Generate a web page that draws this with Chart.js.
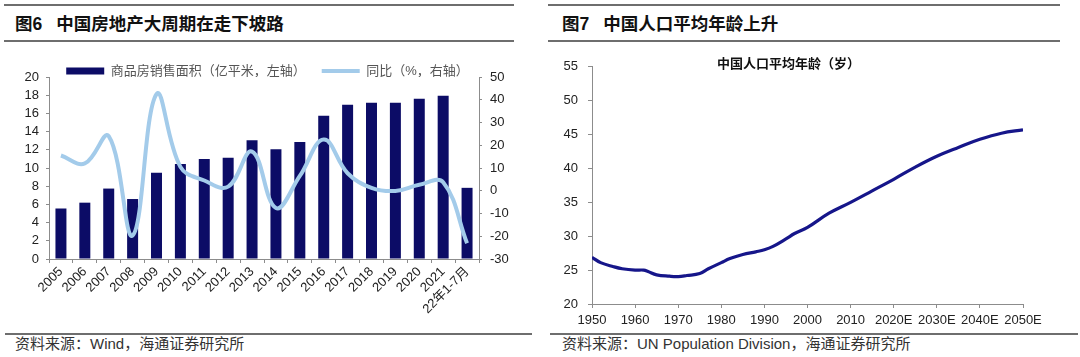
<!DOCTYPE html>
<html>
<head>
<meta charset="utf-8">
<script src="https://cdn.jsdelivr.net/npm/chart.js@4.4.0/dist/chart.umd.min.js"></script>
<style>
  body { margin: 0; width: 1080px; height: 357px; background: #fff; position: relative; overflow: hidden;
         font-family: "Liberation Sans", "Noto Sans CJK SC", sans-serif; }
  .rule { position: absolute; height: 2px; background: #6e6e6e; }
  .title { position: absolute; top: 13px; font-size: 17.5px; line-height: 22px; font-weight: bold; color: #111; white-space: nowrap; }
  .title .num { margin-right: 14px; }
  .src { position: absolute; top: 335px; font-size: 15px; line-height: 18px; color: #333; white-space: nowrap; }
  canvas { position: absolute; }
</style>
</head>
<body>
<div class="rule" style="left:4px;width:510px;top:4px"></div>
<div class="rule" style="left:4px;width:510px;top:40px"></div>
<div class="title" style="left:15px"><span class="num">图6</span>中国房地产大周期在走下坡路</div>
<div class="rule" style="left:5px;width:527px;top:333px"></div>
<div class="src" style="left:15px">资料来源：Wind，海通证券研究所</div>

<div class="rule" style="left:548px;width:512px;top:4px"></div>
<div class="rule" style="left:548px;width:512px;top:40px"></div>
<div class="title" style="left:562px"><span class="num">图7</span>中国人口平均年龄上升</div>
<div class="rule" style="left:550px;width:528px;top:333px"></div>
<div class="src" style="left:562px">资料来源：UN Population Division，海通证券研究所</div>

<canvas id="houseChart" width="535" height="287" style="left:0;top:44px"></canvas>
<canvas id="ageChart" width="540" height="283" style="left:540px;top:49px"></canvas>

<script>
// ---------------------- Fig 6 data ----------------------
const categories = ['2005', '2006', '2007', '2008', '2009', '2010', '2011', '2012', '2013',
                    '2014', '2015', '2016', '2017', '2018', '2019', '2020', '2021', '22年1-7月'];
// 商品房销售面积（亿平米）
const salesArea = [5.55, 6.19, 7.74, 6.59, 9.48, 10.43, 10.99, 11.13, 13.06,
                   12.06, 12.85, 15.73, 16.94, 17.17, 17.16, 17.61, 17.94, 7.82];
// 同比（%）
const salesYoY = [15.5, 12, 24, -19.7, 42.5, 10.5, 4.5, 1.8, 17.2,
                  -7.6, 6.5, 22.5, 7.7, 1.3, -0.1, 2.6, 3.7, -23.1];

// ---------------------- Fig 7 data ----------------------
const years = [1950, 1952, 1955, 1957, 1960, 1962, 1963, 1965, 1968, 1970, 1972, 1975, 1977,
               1980, 1982, 1985, 1988, 1990, 1992, 1995, 1997, 2000, 2005, 2010, 2015,
               2020, 2025, 2030, 2035, 2040, 2045, 2050];
const avgAge = [26.9, 26.1, 25.5, 25.2, 25.0, 25.0, 24.8, 24.3, 24.1, 24.05, 24.2, 24.5, 25.2,
                26.1, 26.7, 27.3, 27.7, 28.0, 28.5, 29.6, 30.4, 31.3, 33.4, 35.0, 36.7,
                38.4, 40.2, 41.8, 43.1, 44.3, 45.2, 45.7];
const ageTickLabels = ['1950', '1960', '1970', '1980', '1990', '2000', '2010',
                       '2020E', '2030E', '2040E', '2050E'];

const fontFamily = '"Liberation Sans", "Noto Sans CJK SC", sans-serif';
const axisColor = '#8c8c8c';
const tickColor = '#222';
const barColor = '#0c0c66';
const yoyColor = '#a3cbea';
const ageColor = '#16168a';

// ---------------------- Fig 6 chart ----------------------
new Chart(document.getElementById('houseChart'), {
  data: {
    labels: categories,
    datasets: [
      {
        type: 'bar',
        label: '商品房销售面积（亿平米，左轴）',
        data: salesArea,
        yAxisID: 'y',
        backgroundColor: barColor,
        barPercentage: 0.46,
        categoryPercentage: 1,
        order: 2
      },
      {
        type: 'line',
        label: '同比（%，右轴）',
        data: salesYoY,
        yAxisID: 'y1',
        borderColor: yoyColor,
        backgroundColor: yoyColor,
        borderWidth: 4,
        pointRadius: 0,
        tension: 0.4,
        order: 1
      }
    ]
  },
  options: {
    responsive: false,
    animation: false,
    layout: { padding: { top: 4.5, left: 0, right: 0, bottom: 0 } },
    plugins: {
      tooltip: { enabled: false },
      legend: {
        position: 'top',
        maxHeight: 28.5,
        labels: {
          usePointStyle: true,
          pointStyleWidth: 38,
          boxHeight: 7,
          padding: 16,
          color: '#555',
          font: { size: 13, family: fontFamily },
          sort: (a, b) => a.datasetIndex - b.datasetIndex,
          generateLabels: function(chart) {
            return chart.data.datasets.map((ds, i) => ({
              text: ds.label,
              datasetIndex: i,
              fillStyle: ds.type === 'bar' ? barColor : yoyColor,
              strokeStyle: ds.type === 'bar' ? barColor : yoyColor,
              lineWidth: ds.type === 'bar' ? 0 : 4,
              pointStyle: ds.type === 'bar' ? 'rect' : 'line',
              fontColor: '#555',
              hidden: false
            }));
          }
        }
      }
    },
    scales: {
      x: {
        grid: { display: true, drawOnChartArea: false, tickLength: 4, color: axisColor, offset: true },
        border: { display: true, color: axisColor },
        ticks: { color: tickColor, font: { size: 13, family: fontFamily }, minRotation: 45, maxRotation: 45,
                 autoSkip: false, padding: 1 },
        afterFit: function(scale) { scale.height = 72; }
      },
      y: {
        position: 'left',
        min: 0, max: 20,
        ticks: { stepSize: 2, autoSkip: false, color: tickColor, font: { size: 13, family: fontFamily }, padding: 7 },
        grid: { drawOnChartArea: false, tickLength: 3, color: axisColor },
        border: { display: true, color: axisColor },
        afterFit: function(scale) { scale.width = 49; }
      },
      y1: {
        position: 'right',
        min: -30, max: 50,
        ticks: { stepSize: 10, autoSkip: false, color: tickColor, font: { size: 13, family: fontFamily }, padding: 8 },
        grid: { drawOnChartArea: false, tickLength: 3, color: axisColor },
        border: { display: true, color: axisColor },
        afterFit: function(scale) { scale.width = 56; }
      }
    }
  }
});

// ---------------------- Fig 7 chart ----------------------
new Chart(document.getElementById('ageChart'), {
  type: 'line',
  data: {
    datasets: [{
      label: '中国人口平均年龄（岁）',
      data: years.map((yr, i) => ({ x: yr, y: avgAge[i] })),
      borderColor: ageColor,
      borderWidth: 3.2,
      pointRadius: 0,
      tension: 0.4
    }]
  },
  options: {
    responsive: false,
    animation: false,
    layout: { padding: { top: 0.4, left: 14, right: 57, bottom: 0 } },
    plugins: {
      tooltip: { enabled: false },
      legend: { display: false },
      title: {
        display: true,
        text: '中国人口平均年龄（岁）',
        color: '#111',
        font: { size: 13, weight: 'bold', family: fontFamily },
        padding: { top: 5, bottom: -5 }
      }
    },
    scales: {
      x: {
        type: 'linear',
        min: 1950, max: 2050,
        ticks: {
          stepSize: 10,
          color: tickColor,
          font: { size: 13, family: fontFamily },
          padding: 5,
          maxRotation: 0,
          autoSkip: false,
          callback: function(value, index) { return ageTickLabels[index]; }
        },
        grid: { drawOnChartArea: false, tickLength: 4, color: axisColor },
        border: { display: true, color: axisColor },
        afterFit: function(scale) { scale.height = 28; }
      },
      y: {
        min: 20, max: 55,
        ticks: { stepSize: 5, autoSkip: false, color: tickColor, font: { size: 13, family: fontFamily }, padding: 10 },
        grid: { drawOnChartArea: false, tickLength: 4, color: axisColor },
        border: { display: true, color: axisColor },
        afterFit: function(scale) { scale.width = 38; }
      }
    }
  }
});
</script>
</body>
</html>
